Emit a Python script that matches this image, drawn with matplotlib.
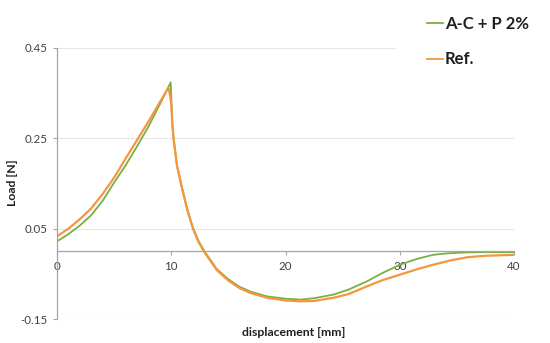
import matplotlib
matplotlib.use("Agg")
import matplotlib.pyplot as plt

plt.rcParams['font.family'] = ['Lato', 'DejaVu Sans']

# A-C + P 2%
x_acp = [0, 1, 2, 3, 4, 5, 6, 7, 8, 9, 9.95, 10.02, 10.1, 10.2, 10.5, 10.9, 11.4, 11.9,
         12.4, 12.9, 14.0, 15.0, 16.0, 17.0, 18.4, 20.0, 21.3, 22.5, 24.2, 25.5, 27.1,
         28.5, 30.0, 31.5, 32.9, 34.0, 35.3, 37.0, 40.0]
y_acp = [0.022, 0.038, 0.057, 0.080, 0.112, 0.152, 0.190, 0.232, 0.276, 0.325, 0.374, 0.330,
         0.280, 0.250, 0.190, 0.145, 0.093, 0.052, 0.022, 0.000, -0.040, -0.062, -0.079,
         -0.090, -0.100, -0.105, -0.107, -0.104, -0.096, -0.085, -0.067, -0.048, -0.030,
         -0.017, -0.008, -0.005, -0.003, -0.002, -0.002]

# Ref.
x_ref = [0, 1, 2, 3, 4, 5, 6, 7, 8, 9, 9.75, 9.9, 10.0, 10.1, 10.2, 10.5, 10.9, 11.4, 11.9,
         12.4, 12.9, 14.0, 15.0, 16.0, 17.0, 18.4, 20.0, 21.3, 22.5, 24.2, 25.5, 27.1, 28.5,
         30.0, 31.5, 32.9, 34.5, 36.0, 37.5, 40.0]
y_ref = [0.033, 0.050, 0.071, 0.095, 0.127, 0.163, 0.205, 0.246, 0.287, 0.330, 0.362, 0.345,
         0.325, 0.280, 0.250, 0.190, 0.144, 0.092, 0.050, 0.020, -0.002, -0.042, -0.065,
         -0.082, -0.093, -0.103, -0.109, -0.111, -0.110, -0.103, -0.095, -0.078, -0.064,
         -0.052, -0.040, -0.030, -0.020, -0.013, -0.010, -0.008]

x_ticks = [0, 10, 20, 30, 40]
y_ticks = [-0.15, 0.05, 0.25, 0.45]
y_ticklabels = ["-0.15", "0.05", "0.25", "0.45"]

fig = plt.figure(figsize=(5.5, 3.43), dpi=100)
ax = fig.add_axes([57/550, 1-319/343, (514-57)/550, (319-48)/343])

grid_c = '#E8E8E0'
axis_c = '#A6A6A6'

for yt in y_ticks:
    xmax = (395-57)/457 if yt == 0.45 else 1
    ax.axhline(yt, xmax=xmax, color=grid_c, lw=0.9, zorder=0)

ax.plot(x_acp, y_acp, color='#77B043', lw=1.3, label='A-C + P 2%', zorder=2)
ax.plot(x_ref, y_ref, color='#F5963F', lw=1.6, label='Ref.', zorder=3)

ax.set_xlim(0, 40)
ax.set_ylim(-0.15, 0.45)
ax.set_xticks(x_ticks)
ax.set_yticks(y_ticks)
ax.set_yticklabels(y_ticklabels)

for s in ['top', 'right']:
    ax.spines[s].set_visible(False)
ax.spines['bottom'].set_position(('data', 0))
ax.spines['bottom'].set_color(axis_c)
ax.spines['left'].set_color(axis_c)
ax.spines['bottom'].set_linewidth(0.9)
ax.spines['left'].set_linewidth(0.9)
ax.tick_params(axis='both', colors=axis_c, labelcolor='#404040', labelsize=8.3,
               length=3, width=0.8, direction='out')
ax.tick_params(axis='x', pad=4)

fig.text(13/550, 1-183/343, 'Load [N]', fontsize=8.8, fontweight='bold', color='#202020',
         rotation=90, ha='center', va='center')
fig.text(294/550, 1-333/343, 'displacement [mm]', fontsize=8.8, fontweight='bold',
         color='#202020', ha='center', va='center')

handles, labels = ax.get_legend_handles_labels()
leg = fig.legend(handles, labels, loc='upper left', bbox_to_anchor=(424/550, 1-13/343),
                 frameon=False, prop={'size': 12, 'weight': 'bold'}, handlelength=0.95,
                 handletextpad=0.1, labelspacing=1.15, borderpad=0.2, borderaxespad=0)
for t in leg.get_texts():
    t.set_color('#202020')
for l in leg.get_lines():
    l.set_linewidth(1.3)

fig.savefig('out.png', dpi=100)
